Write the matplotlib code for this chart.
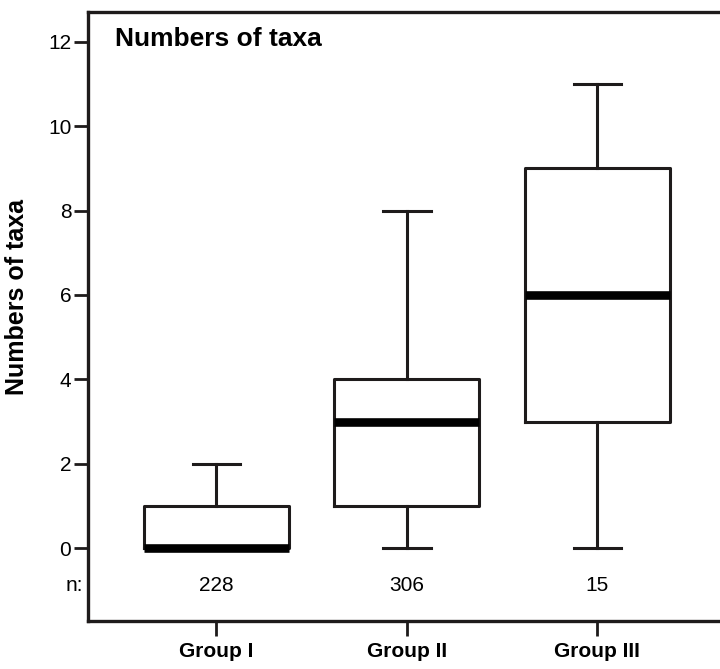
import matplotlib
matplotlib.use('Agg')
import matplotlib.pyplot as plt

groups = ['Group I', 'Group II', 'Group III']
counts = ['228', '306', '15']
whislo = [0, 0, 0]
q1 = [0, 1, 3]
med = [0, 3, 6]
q3 = [1, 4, 9]
whishi = [2, 8, 11]

plt.rcParams['font.family'] = ['Liberation Sans', 'DejaVu Sans']
ink = '#1e1b1b'

fig = plt.figure(figsize=(7.2, 6.69), dpi=100)
ax = fig.add_axes([0.1222, 0.0717, 0.89, 0.9105])

stats = []
for i in range(len(groups)):
    stats.append({'whislo': whislo[i], 'q1': q1[i], 'med': med[i],
                  'q3': q3[i], 'whishi': whishi[i], 'fliers': [], 'label': groups[i]})

ax.bxp(stats, positions=[1, 2, 3], widths=0.76, showfliers=False,
       boxprops=dict(color=ink, linewidth=2.2),
       whiskerprops=dict(color=ink, linewidth=2.2),
       capprops=dict(color=ink, linewidth=2.2),
       medianprops=dict(color='black', linewidth=6.2, solid_capstyle='butt'),
       capwidths=0.25)

ax.set_xlim(0.326, 3.69)
ax.set_ylim(-1.73, 12.71)
ax.set_yticks([0, 2, 4, 6, 8, 10, 12])
ax.set_xticks([1, 2, 3])
ax.set_xticklabels(groups, fontweight='bold', fontsize=15)
ax.tick_params(axis='y', direction='out', length=10, width=2, color=ink, labelsize=15, pad=2)
ax.tick_params(axis='x', direction='out', length=11, width=2, color=ink, pad=4)
for s in ax.spines.values():
    s.set_linewidth(2.4)
    s.set_color(ink)

ax.set_ylabel('Numbers of taxa', fontweight='bold', fontsize=18)
ax.yaxis.set_label_coords(-0.092, 0.532)
ax.text(0.042, 0.955, 'Numbers of taxa', transform=ax.transAxes,
        fontweight='bold', fontsize=19, va='center', ha='left')

ax.text(0.30, -0.88, 'n:', ha='right', va='center', fontsize=15, clip_on=False)
for i, c in enumerate(counts):
    ax.text(i + 1, -0.88, c, ha='center', va='center', fontsize=15)

fig.savefig('out.png', dpi=100)
